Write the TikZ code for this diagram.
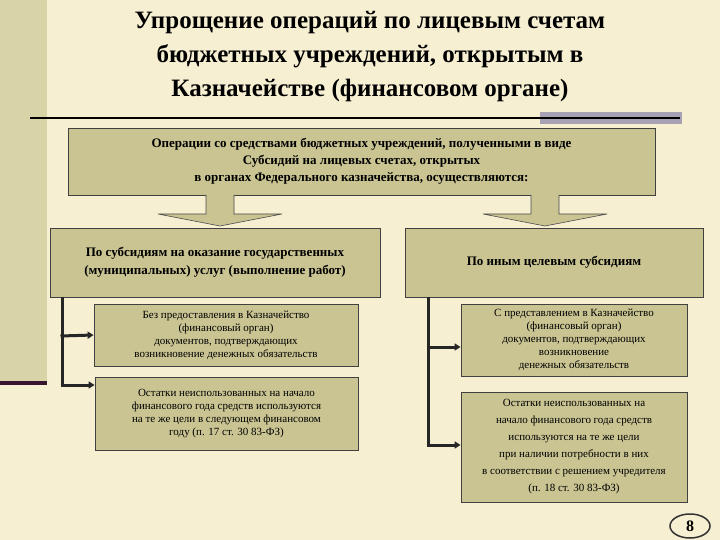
\documentclass[tikz,border=0pt]{standalone}
\usepackage{fontspec}
\setmainfont{Liberation Serif}
\usetikzlibrary{arrows.meta,shapes.geometric}
\definecolor{bg}{HTML}{F7EFD2}
\definecolor{stripe}{HTML}{D8D4A8}
\definecolor{boxc}{HTML}{C9C492}
\definecolor{bar}{HTML}{A7A1B3}
\definecolor{plum}{HTML}{3A1530}
\tikzset{
 bx/.style={draw=black!75,line width=0.8pt,fill=boxc,align=center,inner sep=2pt},
 conn/.style={line width=3pt,draw=black!85},
 arr/.style={line width=3pt,draw=black!85,-{Triangle[length=6pt,width=7pt]}},
 barrow/.style={draw=black!70,fill=boxc,line width=0.6pt}
}
\begin{document}
\begin{tikzpicture}[x=1pt,y=-1pt]
\useasboundingbox (0,0) rectangle (720,540);
\fill[bg] (0,0) rectangle (720,540);
\fill[stripe] (0,0) rectangle (47,382);
\fill[plum] (0,381) rectangle (47,385);
\fill[bar] (540,112) rectangle (682,124);
\draw[line width=1.5pt] (30,118) -- (680,118);
\node[font=\bfseries\fontsize{25}{34}\selectfont,align=center] (title) at (370,57)
 {Упрощение операций по лицевым счетам\\бюджетных учреждений, открытым в\\Казначействе (финансовом органе)};
\node[bx,minimum width=587,minimum height=67,font=\bfseries\fontsize{13}{17}\selectfont] (top) at (361.5,161.5)
 {Операции со средствами бюджетных учреждений, полученными в виде\\Субсидий на лицевых счетах, открытых\\в органах Федерального казначейства, осуществляются:};
\node[bx,minimum width=330,minimum height=69,font=\bfseries\fontsize{13}{18}\selectfont] (L) at (215,262.5)
 {По субсидиям на оказание государственных\\(муниципальных) услуг (выполнение работ)};
\node[bx,minimum width=298,minimum height=69,font=\bfseries\fontsize{13}{18}\selectfont] (R) at (554,262.5)
 {По иным целевым субсидиям};
\draw[barrow] (206,195) -- (206,214) -- (158,214) -- (220,226) -- (282,214) -- (234,214) -- (234,195);
\draw[barrow] (531,195) -- (531,214) -- (483,214) -- (545,226) -- (607,214) -- (559,214) -- (559,195);
\node[bx,minimum width=264,minimum height=62,font=\fontsize{11}{13}\selectfont] (L1) at (226,335)
 {Без предоставления в Казначейство\\(финансовый орган)\\документов, подтверждающих\\возникновение денежных обязательств};
\node[bx,minimum width=263,minimum height=73,font=\fontsize{11}{13}\selectfont] (L2) at (226.5,413.5)
 {Остатки неиспользованных на начало\\финансового года средств используются\\на те же цели в следующем финансовом\\году (п. 17 ст. 30 83-ФЗ)};
\node[bx,minimum width=226,minimum height=72,font=\fontsize{11}{13}\selectfont] (R1) at (574,340)
 {С представлением в Казначейство\\(финансовый орган)\\документов, подтверждающих\\возникновение\\денежных обязательств};
\node[bx,minimum width=226,minimum height=110,font=\fontsize{11}{17}\selectfont] (R2) at (574,447)
 {Остатки неиспользованных на\\начало финансового года средств\\используются на те же цели\\при наличии потребности в них\\в соответствии с решением учредителя\\(п. 18 ст. 30 83-ФЗ)};
\coordinate (lj) at (62,297);
\coordinate (rj) at (428,297);
\draw[conn] (lj) -- (62,385);
\draw[arr] (60.5,336) -- (L1.west);
\draw[arr] (60.5,385) -- (L2.west |- 0,385);
\draw[conn] (rj) -- (428,445);
\draw[arr] (426.5,347) -- (R1.west |- 0,347);
\draw[arr] (426.5,445) -- (R2.west |- 0,445);
\node[draw=black!80,line width=1.5pt,ellipse,minimum width=40,minimum height=24,inner sep=0pt,font=\bfseries\fontsize{16}{16}\selectfont] (pg) at (690,526) {8};
\end{tikzpicture}
\end{document}
